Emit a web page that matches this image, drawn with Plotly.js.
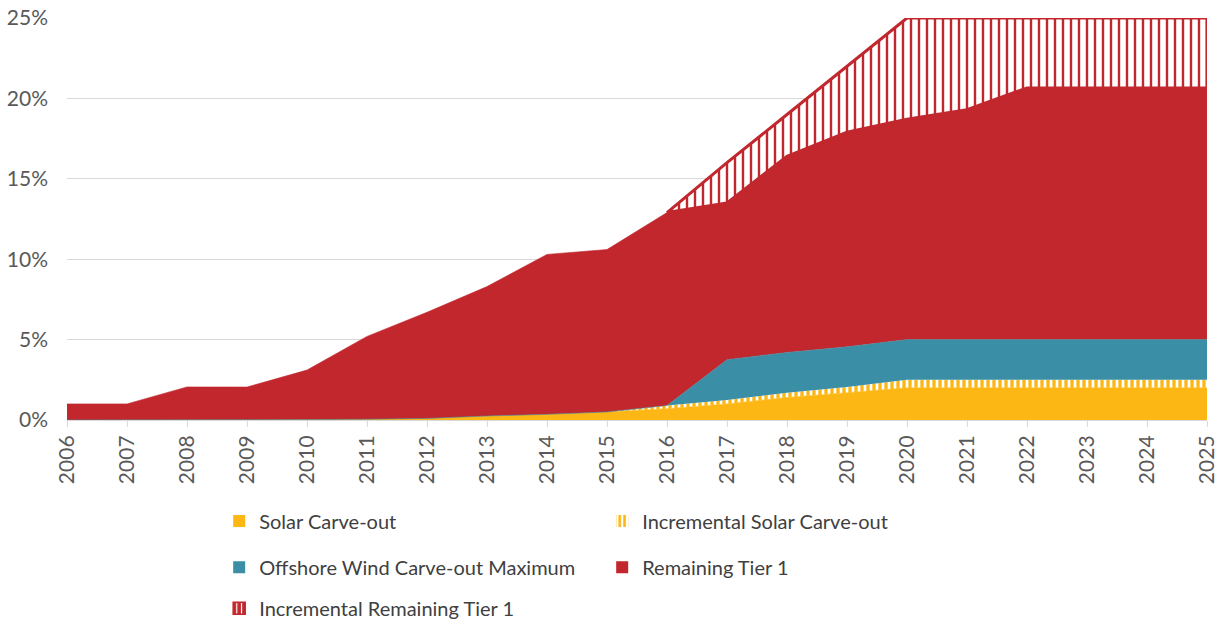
<!DOCTYPE html>
<html>
<head>
<meta charset="utf-8">
<script src="https://cdn.plot.ly/plotly-3.0.1.min.js"></script>
<style>
  html, body { margin: 0; padding: 0; background: #ffffff; }
  #chart { width: 1225px; height: 622px; }
</style>
</head>
<body>
<div id="chart"></div>
<script>
// Tier 1 requirement by compliance year, % of retail sales
const years = [2006, 2007, 2008, 2009, 2010, 2011, 2012, 2013, 2014, 2015,
               2016, 2017, 2018, 2019, 2020, 2021, 2022, 2023, 2024, 2025];

const solarCarveOut = [0, 0, 0.005, 0.01, 0.025, 0.05, 0.1, 0.25, 0.35, 0.5,
                       0.7, 1.0, 1.4, 1.7, 2.0, 2.0, 2.0, 2.0, 2.0, 2.0];

const incrementalSolar = [0, 0, 0, 0, 0, 0, 0, 0, 0, 0,
                          0.2, 0.25, 0.3, 0.35, 0.5, 0.5, 0.5, 0.5, 0.5, 0.5];

const offshoreWindMax = [0, 0, 0, 0, 0, 0, 0, 0, 0, 0,
                         0, 2.5, 2.5, 2.5, 2.5, 2.5, 2.5, 2.5, 2.5, 2.5];

const remainingTier1 = [1.0, 1.0, 2.05, 2.04, 3.08, 5.15, 6.6, 8.05, 9.95, 10.1,
                        12.0, 9.75, 12.2, 13.35, 13.7, 14.3, 15.65, 15.65, 15.65, 15.65];

const incrementalTier1 = [0, 0, 0, 0, 0, 0, 0, 0, 0, 0,
                          0, 2.5, 2.6, 4.1, 6.3, 5.7, 4.35, 4.35, 4.35, 4.35];

const yTicks = [0, 5, 10, 15, 20, 25];
const yTickText = ['0%', '5%', '10%', '15%', '20%', '25%'];

const names = {
  solar: 'Solar Carve-out',
  incSolar: 'Incremental Solar Carve-out',
  wind: 'Offshore Wind Carve-out Maximum',
  tier1: 'Remaining Tier 1',
  incTier1: 'Incremental Remaining Tier 1'
};

const YELLOW = '#FDB714';
const TEAL = '#3A8EA5';
const RED = '#C1272D';
const FONT = 'Lato, "Open Sans", sans-serif';

// top of the solid stack, used as the floor of the hatched increment
const solidTop = years.map((_, i) =>
  solarCarveOut[i] + incrementalSolar[i] + offshoreWindMax[i] + remainingTier1[i]);

// hatched increment drawn as a closed outline from the first year it applies
const firstInc = Math.max(0, incrementalTier1.findIndex(v => v > 0) - 1);
const incX = [], incY = [];
for (let i = firstInc; i < years.length; i++) {
  incX.push(years[i]);
  incY.push(solidTop[i] + incrementalTier1[i]);
}
for (let i = years.length - 1; i >= firstInc; i--) {
  incX.push(years[i]);
  incY.push(solidTop[i]);
}

const area = (y, color, extra) => Object.assign({
  type: 'scatter', mode: 'lines', x: years, y: y,
  stackgroup: 'rps', fillcolor: color,
  line: { color: color, width: 0.6 },
  showlegend: false, hoverinfo: 'skip'
}, extra || {});

const solarPattern = { shape: '|', size: 6, solidity: 0.55, fgcolor: YELLOW, bgcolor: '#ffffff' };
const tierPattern = { shape: '|', size: 8, solidity: 0.3, fgcolor: RED, bgcolor: '#ffffff' };

const traces = [
  area(solarCarveOut, YELLOW),
  area(incrementalSolar, YELLOW, {
    fillpattern: solarPattern,
    line: { color: YELLOW, width: 0 }
  }),
  area(offshoreWindMax, TEAL),
  area(remainingTier1, RED),
  {
    type: 'scatter', mode: 'lines', x: incX, y: incY,
    fill: 'toself', fillcolor: '#ffffff', fillpattern: tierPattern,
    line: { color: RED, width: 3 },
    showlegend: false, hoverinfo: 'skip'
  }
];

// legend keys: one empty slot each, so only the key square is drawn
const key = (name, legend, marker) => ({
  type: 'bar', x: [years[0]], y: [null], name: name, legend: legend,
  marker: marker, showlegend: true, hoverinfo: 'skip'
});
traces.push(
  key(names.solar, 'legend', { color: YELLOW }),
  key(names.incSolar, 'legend', { color: '#ffffff', pattern: solarPattern }),
  key(names.wind, 'legend2', { color: TEAL }),
  key(names.tier1, 'legend2', { color: RED }),
  key(names.incTier1, 'legend3', {
    color: RED,
    pattern: { shape: '|', size: 6, solidity: 0.25, fgcolor: '#ffffff', bgcolor: RED },
    line: { color: RED, width: 1.5 }
  })
);

const legendBase = {
  orientation: 'h', xanchor: 'left', yanchor: 'middle',
  x: 0.1335, entrywidth: 338, entrywidthmode: 'pixels',
  itemwidth: 30, bgcolor: 'rgba(0,0,0,0)', traceorder: 'normal',
  font: { family: FONT, size: 20, color: '#404040' }
};

const tickFont = { family: FONT, size: 21, color: '#595959' };

const layout = {
  width: 1225, height: 622,
  margin: { l: 67, r: 18, t: 18, b: 202, autoexpand: false },
  paper_bgcolor: '#ffffff', plot_bgcolor: '#ffffff',
  font: { family: FONT, color: '#595959' },
  xaxis: {
    range: [years[0], years[years.length - 1]],
    tickvals: years, ticktext: years.map(String),
    tickangle: -90, tickfont: tickFont, automargin: false,
    ticks: 'outside', ticklen: 6, tickcolor: '#d9d9d9',
    showline: true, linecolor: '#d9d9d9', linewidth: 1,
    showgrid: false, zeroline: false, fixedrange: true
  },
  yaxis: {
    range: [0, 25], tickvals: yTicks, ticktext: yTickText,
    tickfont: tickFont, ticks: '', ticklabelstandoff: 18, automargin: false,
    showgrid: true, gridcolor: '#d9d9d9', gridwidth: 1,
    showline: false, zeroline: false, fixedrange: true
  },
  legend: Object.assign({}, legendBase, { y: -0.251 }),
  legend2: Object.assign({}, legendBase, { y: -0.366 }),
  legend3: Object.assign({}, legendBase, { y: -0.468 }),
  barmode: 'overlay',
  showlegend: true
};

Plotly.newPlot('chart', traces, layout, { displayModeBar: false, staticPlot: true });
</script>
</body>
</html>
